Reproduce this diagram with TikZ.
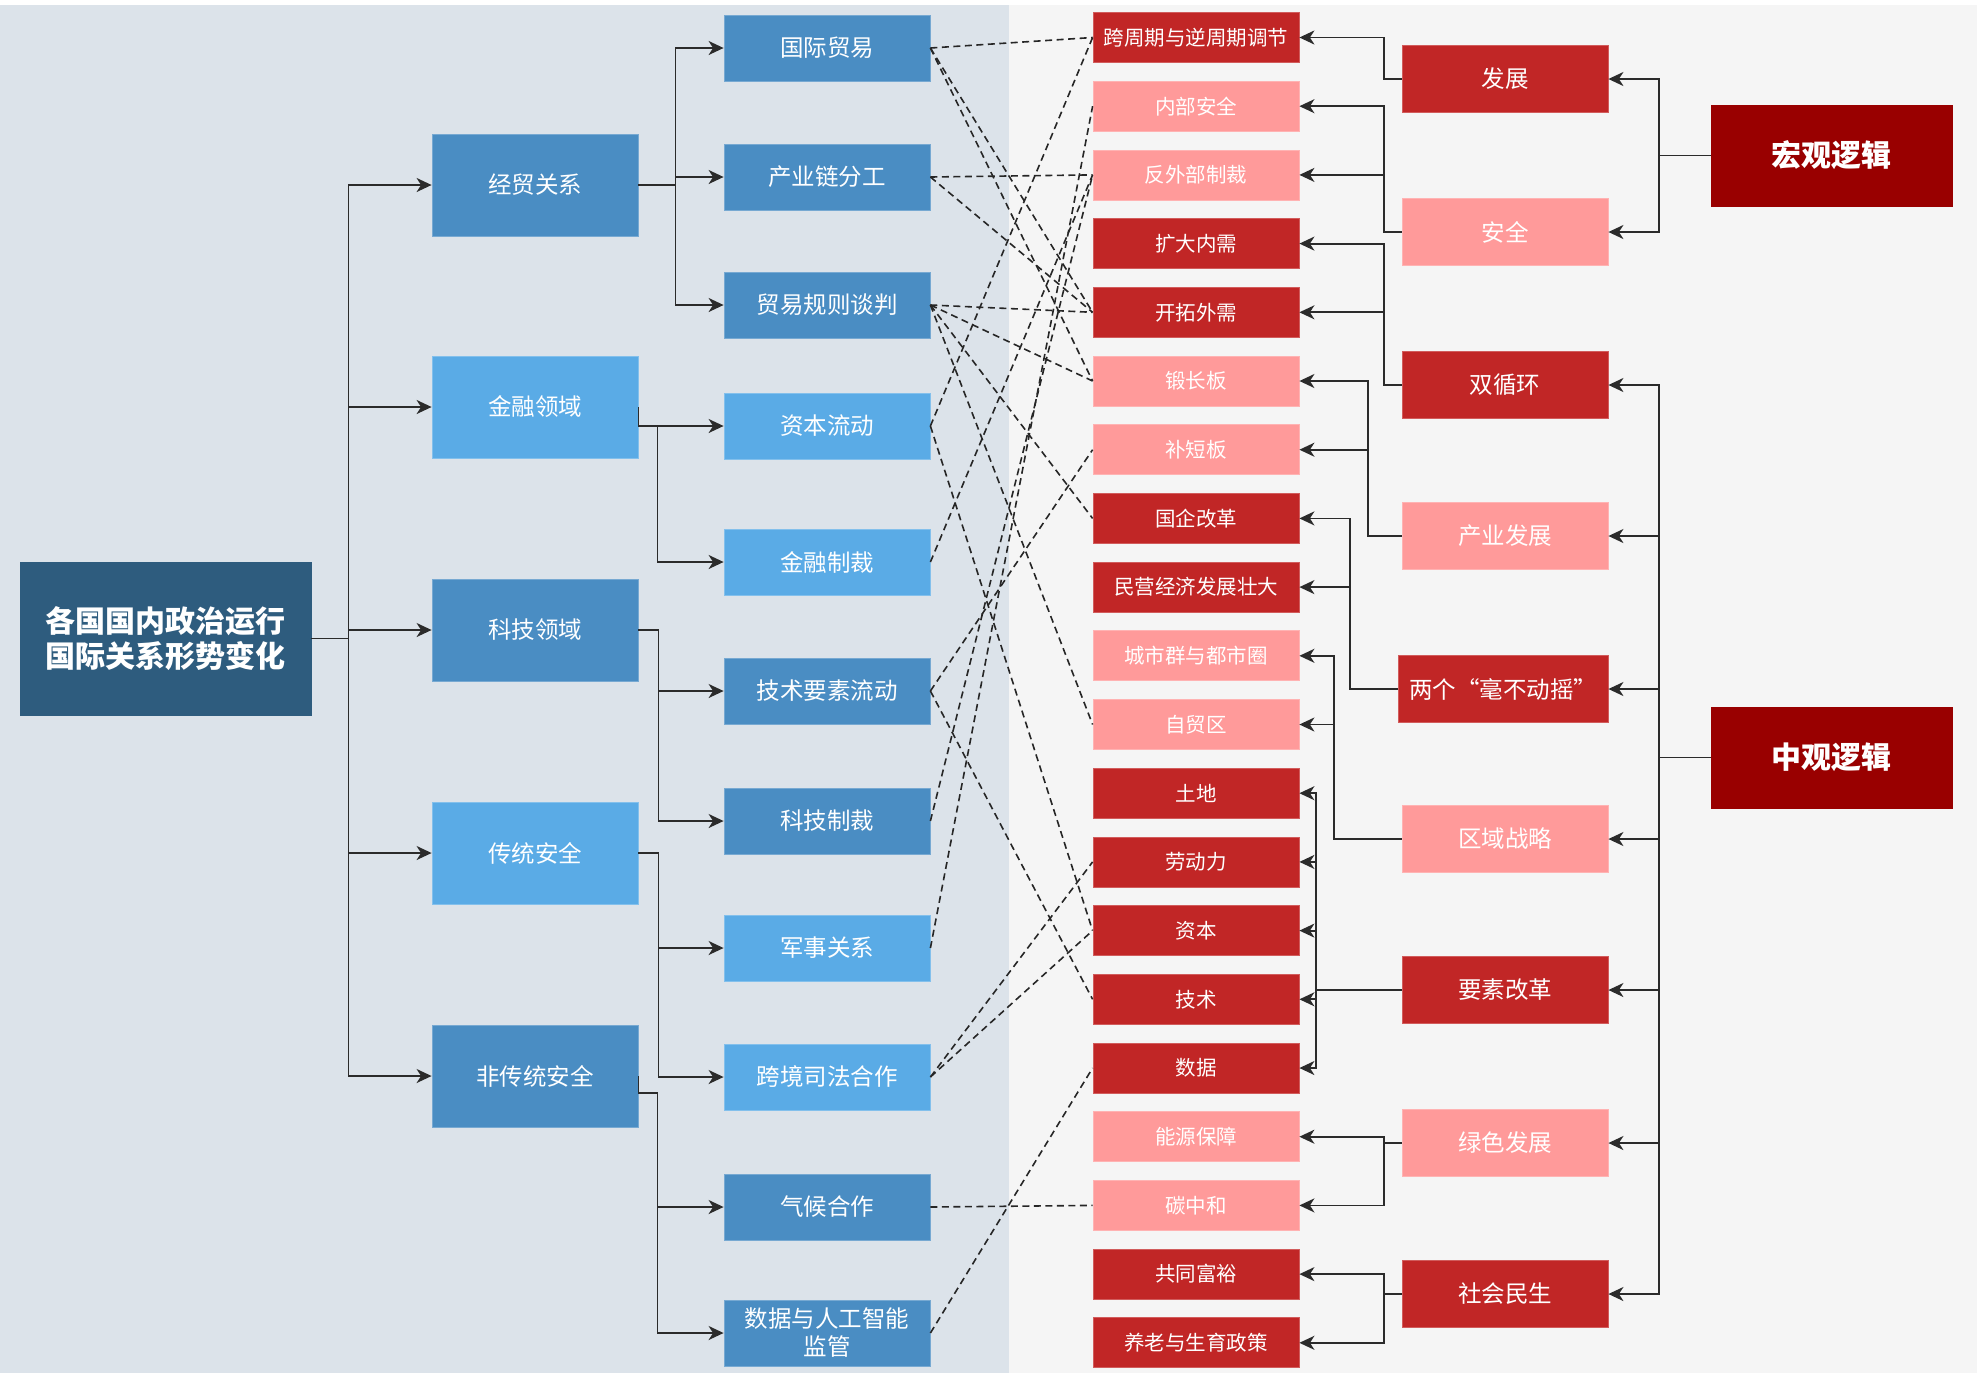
\documentclass[tikz,border=0pt]{standalone}
\usepackage{fontspec}
\setmainfont{Noto Sans CJK SC}
\usetikzlibrary{arrows.meta}
\definecolor{logicroot}{HTML}{2E5C7E}
\definecolor{logicblue}{HTML}{4A8DC3}
\definecolor{logicsky}{HTML}{5AABE6}
\definecolor{logicred}{HTML}{C12626}
\definecolor{logicpink}{HTML}{FF9A9A}
\definecolor{logicdark}{HTML}{990000}
\definecolor{logicbgleft}{HTML}{DCE3EA}
\definecolor{logicbgright}{HTML}{F5F5F5}
\definecolor{logicline}{HTML}{2B2B2B}

\begin{document}
\begin{tikzpicture}[x=1pt, y=-1pt,
        box/.style={rectangle, draw, line width=0.8pt, text=white, align=center, inner sep=0pt},
        areabox/.style={box, minimum width=206pt, minimum height=102pt, font=\fontsize{23.5}{28}\selectfont},
        fieldbox/.style={box, minimum width=206pt, minimum height=66pt, font=\fontsize{23.5}{28}\selectfont},
        goalbox/.style={box, minimum width=206pt, minimum height=50pt, font=\fontsize{20.5}{24}\selectfont},
        policybox/.style={box, minimum width=206pt, minimum height=67pt, font=\fontsize{23.5}{28}\selectfont},
        logicbox/.style={box, fill=logicdark, draw=logicdark, minimum width=241pt, minimum height=101pt, font=\bfseries\fontsize{30}{36}\selectfont},
        deep/.style={fill=logicblue, draw=logicblue!75!white},
        sky/.style={fill=logicsky, draw=logicsky!75!white},
        hot/.style={fill=logicred, draw=logicred!75!white},
        soft/.style={fill=logicpink, draw=logicpink!75!white},
        link/.style={-{Stealth[length=15pt, width=14pt, inset=4.5pt]}, line width=1.8pt, draw=logicline},
        tie/.style={line width=1.6pt, dash pattern=on 7pt off 4.5pt, draw=black!85}]
      \useasboundingbox (0,0) rectangle (1977,1377);
      % Background
      \fill[logicbgleft] (0,5) rectangle (1009,1373);
      \fill[logicbgright] (1009,5) rectangle (1977,1373);

      % Root
      \node[box, fill=logicroot, draw=logicroot, minimum width=291pt, minimum height=153pt,
            font=\bfseries\fontsize{30}{35}\selectfont] (root) at (165.5,638.5) {各国国内政治运行\\国际关系形势变化};

      % Domains
      \node[areabox, deep] (trade) at (535,185) {经贸关系};
      \node[areabox, sky] (finance) at (535,407) {金融领域};
      \node[areabox, deep] (tech) at (535,630) {科技领域};
      \node[areabox, sky] (tradsec) at (535,853) {传统安全};
      \node[areabox, deep] (nontradsec) at (535,1076) {非传统安全};

      % Fields
      \node[fieldbox, deep] (intltrade) at (827,48) {国际贸易};
      \node[fieldbox, deep] (chain) at (827,177) {产业链分工};
      \node[fieldbox, deep] (rules) at (827,305) {贸易规则谈判};
      \node[fieldbox, sky] (capflow) at (827,426) {资本流动};
      \node[fieldbox, sky] (finsanc) at (827,562) {金融制裁};
      \node[fieldbox, deep] (techflow) at (827,691) {技术要素流动};
      \node[fieldbox, deep] (techsanc) at (827,821) {科技制裁};
      \node[fieldbox, sky] (military) at (827,948) {军事关系};
      \node[fieldbox, sky] (judicial) at (827,1077) {跨境司法合作};
      \node[fieldbox, deep] (climate) at (827,1207) {气候合作};
      \node[fieldbox, deep] (aigov) at (827,1333) {数据与人工智能\\监管};

      % Goals
      \node[goalbox, hot] (cycle) at (1196,37.5) {跨周期与逆周期调节};
      \node[goalbox, soft] (innersec) at (1196,106.2) {内部安全};
      \node[goalbox, soft] (antisanc) at (1196,174.9) {反外部制裁};
      \node[goalbox, hot] (domdemand) at (1196,243.6) {扩大内需};
      \node[goalbox, hot] (extdemand) at (1196,312.3) {开拓外需};
      \node[goalbox, soft] (strong) at (1196,381) {锻长板};
      \node[goalbox, soft] (weak) at (1196,449.7) {补短板};
      \node[goalbox, hot] (soe) at (1196,518.4) {国企改革};
      \node[goalbox, hot] (private) at (1196,587.1) {民营经济发展壮大};
      \node[goalbox, soft] (city) at (1196,655.8) {城市群与都市圈};
      \node[goalbox, soft] (ftz) at (1196,724.5) {自贸区};
      \node[goalbox, hot] (land) at (1196,793.2) {土地};
      \node[goalbox, hot] (labour) at (1196,861.9) {劳动力};
      \node[goalbox, hot] (capital) at (1196,930.6) {资本};
      \node[goalbox, hot] (techf) at (1196,999.3) {技术};
      \node[goalbox, hot] (data) at (1196,1068) {数据};
      \node[goalbox, soft] (energy) at (1196,1136.7) {能源保障};
      \node[goalbox, soft] (carbon) at (1196,1205.4) {碳中和};
      \node[goalbox, hot] (prosper) at (1196,1274.1) {共同富裕};
      \node[goalbox, hot] (pension) at (1196,1342.8) {养老与生育政策};

      % Policies
      \node[policybox, hot] (develop) at (1505,79) {发展};
      \node[policybox, soft] (security) at (1505,232) {安全};
      \node[policybox, hot] (dualcirc) at (1505,385) {双循环};
      \node[policybox, soft] (industry) at (1505,536) {产业发展};
      \node[policybox, hot, minimum width=210pt] (twonever) at (1503,689) {两个“毫不动摇”};
      \node[policybox, soft] (region) at (1505,839) {区域战略};
      \node[policybox, hot] (factor) at (1505,990) {要素改革};
      \node[policybox, soft] (green) at (1505,1143) {绿色发展};
      \node[policybox, hot] (welfare) at (1505,1294) {社会民生};

      % Logic
      \node[logicbox] (macro) at (1831.5,155.5) {宏观逻辑};
      \node[logicbox] (meso) at (1831.5,757.5) {中观逻辑};

      % Edges, left tree
      \draw[link] (root.east) -- ++(37,0) |- (trade.west);
      \draw[link] (root.east) -- ++(37,0) |- (finance.west);
      \draw[link] (root.east) -- ++(37,0) |- (tech.west);
      \draw[link] (root.east) -- ++(37,0) |- (tradsec.west);
      \draw[link] (root.east) -- ++(37,0) |- (nontradsec.west);
      \draw[link] (trade.east) -- ++(37,0) |- (intltrade.west);
      \draw[link] (trade.east) -- ++(37,0) |- (chain.west);
      \draw[link] (trade.east) -- ++(37,0) |- (rules.west);
      \draw[link] (finance.east) |- (capflow.west);
      \draw[link] (finance.east) |- ++(19,19) |- (finsanc.west);
      \draw[link] (tech.east) -- ++(20,0) |- (techflow.west);
      \draw[link] (tech.east) -- ++(20,0) |- (techsanc.west);
      \draw[link] (tradsec.east) -- ++(20,0) |- (military.west);
      \draw[link] (tradsec.east) -- ++(20,0) |- (judicial.west);
      \draw[link] (nontradsec.east) |- ++(19,17) |- (climate.west);
      \draw[link] (nontradsec.east) |- ++(19,17) |- (aigov.west);

      % Edges, right tree
      \draw[link] (macro.west) -- ++(-52,0) |- (develop.east);
      \draw[link] (macro.west) -- ++(-52,0) |- (security.east);
      \draw[link] (meso.west) -- ++(-52,0) |- (dualcirc.east);
      \draw[link] (meso.west) -- ++(-52,0) |- (industry.east);
      \draw[link] (meso.west) -- ++(-52,0) |- (twonever.east);
      \draw[link] (meso.west) -- ++(-52,0) |- (region.east);
      \draw[link] (meso.west) -- ++(-52,0) |- (factor.east);
      \draw[link] (meso.west) -- ++(-52,0) |- (green.east);
      \draw[link] (meso.west) -- ++(-52,0) |- (welfare.east);
      \draw[link] (develop.west) -- ++(-18,0) |- (cycle.east);
      \draw[link] (security.west) -- ++(-18,0) |- (innersec.east);
      \draw[link] (security.west) -- ++(-18,0) |- (antisanc.east);
      \draw[link] (dualcirc.west) -- ++(-18,0) |- (domdemand.east);
      \draw[link] (dualcirc.west) -- ++(-18,0) |- (extdemand.east);
      \draw[link] (industry.west) -- ++(-34,0) |- (strong.east);
      \draw[link] (industry.west) -- ++(-34,0) |- (weak.east);
      \draw[link] (twonever.west) -- ++(-48,0) |- (soe.east);
      \draw[link] (twonever.west) -- ++(-48,0) |- (private.east);
      \draw[link] (region.west) -- ++(-68,0) |- (city.east);
      \draw[link] (region.west) -- ++(-68,0) |- (ftz.east);
      \draw[link] (factor.west) -- ++(-86,0) |- (land.east);
      \draw[link] (factor.west) -- ++(-86,0) |- (labour.east);
      \draw[link] (factor.west) -- ++(-86,0) |- (capital.east);
      \draw[link] (factor.west) -- ++(-86,0) |- (techf.east);
      \draw[link] (factor.west) -- ++(-86,0) |- (data.east);
      \draw[link] (green.west) -- ++(-18,0) |- (energy.east);
      \draw[link] (green.west) -- ++(-18,0) |- (carbon.east);
      \draw[link] (welfare.west) -- ++(-18,0) |- (prosper.east);
      \draw[link] (welfare.west) -- ++(-18,0) |- (pension.east);

      % Cross links
      \draw[tie] (intltrade.east) -- (cycle.west);
      \draw[tie] (intltrade.east) -- (extdemand.west);
      \draw[tie] (intltrade.east) -- (strong.west);
      \draw[tie] (chain.east) -- (antisanc.west);
      \draw[tie] (chain.east) -- (extdemand.west);
      \draw[tie] (rules.east) -- (extdemand.west);
      \draw[tie] (rules.east) -- (strong.west);
      \draw[tie] (rules.east) -- (soe.west);
      \draw[tie] (rules.east) -- (ftz.west);
      \draw[tie] (capflow.east) -- (cycle.west);
      \draw[tie] (capflow.east) -- (capital.west);
      \draw[tie] (finsanc.east) -- (antisanc.west);
      \draw[tie] (techflow.east) -- (weak.west);
      \draw[tie] (techflow.east) -- (techf.west);
      \draw[tie] (techsanc.east) -- (antisanc.west);
      \draw[tie] (military.east) -- (innersec.west);
      \draw[tie] (judicial.east) -- (labour.west);
      \draw[tie] (judicial.east) -- (capital.west);
      \draw[tie] (climate.east) -- (carbon.west);
      \draw[tie] (aigov.east) -- (data.west);
    \end{tikzpicture}
\end{document}
